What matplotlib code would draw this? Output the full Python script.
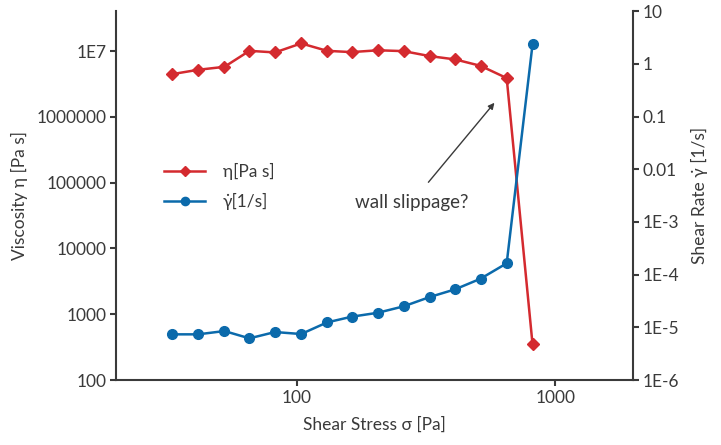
# Viscosity and shear rate vs shear stress (log-log, twin axes)

import numpy as np
import matplotlib.pyplot as plt

# data
stress = [33, 41.5, 52.5, 65.6, 82.4, 104, 131, 163, 206, 259, 327, 410, 514, 649, 817]
viscosity = [4.47e6, 5.2e6, 5.77e6, 1.01e7, 9.55e6, 1.31e7, 1.01e7, 9.66e6, 1.03e7,
             1.0e7, 8.4e6, 7.48e6, 5.98e6, 3.89e6, 349]
shear_rate = [7.36e-6, 7.36e-6, 8.5e-6, 6.18e-6, 8.14e-6, 7.46e-6, 1.24e-5, 1.59e-5,
              1.89e-5, 2.5e-5, 3.76e-5, 5.26e-5, 8.36e-5, 1.64e-4, 2.34]

left_ticks = [100, 1000, 10000, 100000, 1000000, 1e7]
left_labels = ['100', '1000', '10000', '100000', '1000000', '1E7']
right_ticks = [1e-6, 1e-5, 1e-4, 1e-3, 0.01, 0.1, 1, 10]
right_labels = ['1E-6', '1E-5', '1E-4', '1E-3', '0.01', '0.1', '1', '10']

red = '#d42a2f'
blue = '#0b6aab'
grey = '#3a3a3a'

plt.rcParams['font.family'] = ['Lato', 'DejaVu Sans']
plt.rcParams['font.size'] = 12.5
plt.rcParams['text.color'] = grey
plt.rcParams['axes.labelcolor'] = grey
plt.rcParams['xtick.color'] = grey
plt.rcParams['ytick.color'] = grey

fig = plt.figure(figsize=(7.21, 4.45), dpi=100)
ax = fig.add_axes([0.161, 0.146, 0.717, 0.829])
ax2 = ax.twinx()

l1, = ax.plot(stress, viscosity, color=red, marker='D', markersize=6, linewidth=1.8,
              label='η[Pa s]')
l2, = ax2.plot(stress, shear_rate, color=blue, marker='o', markersize=7, linewidth=1.8,
               label='γ\u0307[1/s]')

ax.set_xscale('log')
ax.set_yscale('log')
ax2.set_yscale('log')
ax.set_xlim(20, 2000)
ax.set_ylim(100, 10 ** 7.608)
ax2.set_ylim(1e-6, 10)

ax.set_xticks([100, 1000])
ax.set_xticklabels(['100', '1000'])
ax.set_yticks(left_ticks)
ax.set_yticklabels(left_labels)
ax2.set_yticks(right_ticks)
ax2.set_yticklabels(right_labels)
ax.minorticks_off()
ax2.minorticks_off()

for a in (ax, ax2):
    a.spines['top'].set_visible(False)
    for s in a.spines.values():
        s.set_color(grey)
        s.set_linewidth(1.5)
    a.tick_params(length=4, width=1.5, direction='out', pad=3)
ax.spines['right'].set_visible(False)
ax2.spines['left'].set_visible(False)
ax2.spines['bottom'].set_visible(False)

ax.set_xlabel('Shear Stress σ [Pa]', labelpad=8)
ax.set_ylabel('Viscosity η [Pa s]', labelpad=6)
ax2.set_ylabel('Shear Rate γ\u0307 [1/s]', labelpad=8)

ax.legend(handles=[l1, l2], loc='upper left', bbox_to_anchor=(0.062, 0.63),
          frameon=False, handlelength=2.4, handletextpad=1.0, labelspacing=0.75,
          markerscale=0.85)

ax.annotate('wall slippage?', xy=(582, 1.64e6), xytext=(279, 5.07e4),
            ha='center', va='center', color=grey, fontsize=13.5,
            arrowprops=dict(arrowstyle='-|>', color=grey, lw=1, shrinkA=8, shrinkB=0,
                            mutation_scale=9))

plt.savefig('out.png', dpi=100)
